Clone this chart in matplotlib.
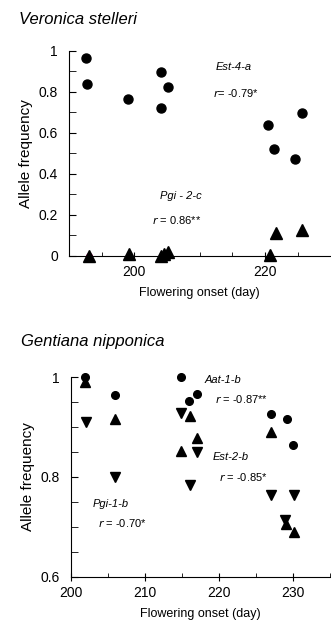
import matplotlib
matplotlib.use("Agg")
import matplotlib.pyplot as plt
from matplotlib.ticker import MultipleLocator

plt.rcParams['font.family'] = ['Liberation Sans', 'DejaVu Sans']

# Veronica stelleri
vs_est_day = [192.6, 192.8, 199.0, 204.0, 204.1, 205.1, 220.4, 221.3, 224.5, 225.6]
vs_est_freq = [0.966, 0.837, 0.764, 0.720, 0.899, 0.823, 0.637, 0.521, 0.472, 0.697]
vs_pgi_day = [193.1, 199.2, 204.0, 204.6, 205.2, 220.8, 221.6, 225.7]
vs_pgi_freq = [0.0, 0.01, 0.0, 0.01, 0.02, 0.005, 0.112, 0.125]

# Gentiana nipponica
gn_aat_day = [201.9, 205.9, 214.9, 216.0, 217.0, 227.0, 229.2, 230.0]
gn_aat_freq = [1.0, 0.964, 1.0, 0.953, 0.966, 0.926, 0.916, 0.865]
gn_est_day = [201.9, 206.0, 214.8, 216.1, 217.0, 227.0, 229.1, 230.1]
gn_est_freq = [0.991, 0.916, 0.852, 0.923, 0.878, 0.890, 0.706, 0.690]
gn_pgi_day = [202.0, 206.0, 214.9, 217.0, 216.1, 227.0, 230.1, 228.9]
gn_pgi_freq = [0.910, 0.800, 0.928, 0.851, 0.783, 0.764, 0.764, 0.714]

fig = plt.figure(figsize=(3.31, 6.24), dpi=100)

def style(ax):
    ax.spines['top'].set_visible(False)
    ax.spines['right'].set_visible(False)
    ax.tick_params(axis='y', which='both', direction='in', labelsize=10, pad=8)
    ax.tick_params(axis='y', which='major', length=5)
    ax.tick_params(axis='y', which='minor', length=5)
    ax.tick_params(axis='x', which='major', direction='inout', length=6, labelsize=10)
    ax.tick_params(axis='x', which='minor', direction='in', length=3)
    ax.set_ylabel('Allele frequency', fontsize=11)
    ax.set_xlabel('Flowering onset (day)', fontsize=9, labelpad=6)

# top panel
ax1 = fig.add_axes([0.2085, 0.590, 0.79, 0.3285])
ax1.plot(vs_est_day, vs_est_freq, 'o', color='black', ms=6.5, clip_on=False)
ax1.plot([193.0], [0.0], 'o', color='#e0007a', ms=4, clip_on=False)
ax1.plot(vs_pgi_day, vs_pgi_freq, '^', color='black', ms=8, clip_on=False)
ax1.set_xlim(190, 230)
ax1.set_ylim(0, 1)
ax1.xaxis.set_major_locator(MultipleLocator(20))
ax1.xaxis.set_minor_locator(MultipleLocator(5))
ax1.set_yticks([0, 0.2, 0.4, 0.6, 0.8, 1])
ax1.set_yticklabels(['0', '0.2', '0.4', '0.6', '0.8', '1'])
ax1.yaxis.set_minor_locator(MultipleLocator(0.1))
style(ax1)
ax1.text(212.4, 0.923, 'Est-4-a', style='italic', fontsize=8, va='center')
ax1.text(212.0, 0.795, r'$r$= -0.79*', fontsize=8, va='center')
ax1.text(207.1, 0.293, 'Pgi - 2-c', style='italic', fontsize=8, ha='center', va='center')
ax1.text(206.5, 0.174, r'$r$ = 0.86**', fontsize=8, ha='center', va='center')
fig.text(0.057, 0.968, 'Veronica stelleri', style='italic', fontsize=12, va='center')

# bottom panel
ax2 = fig.add_axes([0.2145, 0.0758, 0.783, 0.3196])
ax2.plot(gn_aat_day, gn_aat_freq, 'o', color='black', ms=5.5, clip_on=False)
ax2.plot(gn_est_day, gn_est_freq, '^', color='black', ms=6.5, clip_on=False)
ax2.plot(gn_pgi_day, gn_pgi_freq, 'v', color='black', ms=6.5, clip_on=False)
ax2.set_xlim(200, 235)
ax2.set_ylim(0.6, 1.0)
ax2.xaxis.set_major_locator(MultipleLocator(10))
ax2.xaxis.set_minor_locator(MultipleLocator(5))
ax2.set_yticks([0.6, 0.8, 1.0])
ax2.set_yticklabels(['0.6', '0.8', '1'])
ax2.yaxis.set_minor_locator(MultipleLocator(0.05))
style(ax2)
ax2.text(218.0, 0.995, 'Aat-1-b', style='italic', fontsize=8, va='center')
ax2.text(219.5, 0.956, r'$r$ = -0.87**', fontsize=8, va='center')
ax2.text(219.1, 0.840, 'Est-2-b', style='italic', fontsize=8, va='center')
ax2.text(220.0, 0.800, r'$r$ = -0.85*', fontsize=8, va='center')
ax2.text(202.9, 0.746, 'Pgi-1-b', style='italic', fontsize=8, va='center')
ax2.text(203.6, 0.708, r'$r$ = -0.70*', fontsize=8, va='center')
fig.text(0.063, 0.4535, 'Gentiana nipponica', style='italic', fontsize=12, va='center')

fig.savefig('out.png', dpi=100)
